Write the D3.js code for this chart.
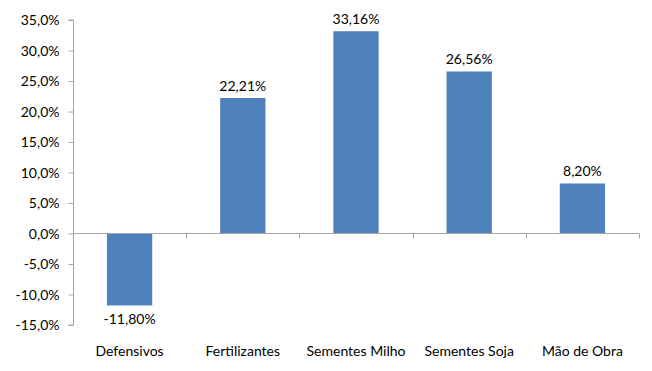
<!DOCTYPE html>
<html>
<head>
<meta charset="utf-8">
<script src="https://cdn.jsdelivr.net/npm/d3@7"></script>
<style>
  body { margin: 0; background: #fff; }
  text { font-family: Lato, "Open Sans", sans-serif; font-size: 14px; fill: #000; }
</style>
</head>
<body>
<svg id="chart" width="652" height="371"></svg>
<script>
// categories and values (percent)
const categories = ["Defensivos", "Fertilizantes", "Sementes Milho", "Sementes Soja", "Mão de Obra"];
const values = [-11.80, 22.21, 33.16, 26.56, 8.20];
const yTicks = [-15, -10, -5, 0, 5, 10, 15, 20, 25, 30, 35];

const svg = d3.select("#chart");
const margin = { top: 20, right: 13, bottom: 46, left: 73 };
const W = 652, H = 371;
const axisColor = "#A6A6A6";
const barColor = "#4F81BD";

const x = d3.scaleBand()
  .domain(categories)
  .range([margin.left, W - margin.right])
  .paddingInner(0.6)
  .paddingOuter(0.3);

const y = d3.scaleLinear()
  .domain([-15, 35])
  .range([H - margin.bottom, margin.top]);

const fmt = v => d3.format(".1f")(v).replace(".", ",").replace("−", "-") + "%";
const fmt2 = v => d3.format(".2f")(v).replace(".", ",").replace("−", "-") + "%";

// y axis
const yAxis = d3.axisLeft(y).tickValues(yTicks).tickSize(5).tickPadding(9).tickFormat(fmt);
const gy = svg.append("g").attr("transform", `translate(${margin.left + 0.5},0)`).call(yAxis);
gy.select(".domain").attr("stroke", axisColor).attr("d", `M-5,${y(35)}H0V${y(-15)}H-5`);
gy.selectAll(".tick line").attr("stroke", axisColor);
gy.selectAll(".tick text").attr("font-family", null).attr("font-size", null).attr("dy", "0.35em");

// bars
svg.append("g").selectAll("rect")
  .data(values)
  .join("rect")
  .attr("x", (d, i) => x(categories[i]))
  .attr("width", x.bandwidth())
  .attr("y", d => y(Math.max(0, d)))
  .attr("height", d => Math.abs(y(d) - y(0)))
  .attr("fill", barColor);

// zero line with category ticks
const zeroY = Math.round(y(0)) + 0.5;
const bounds = d3.range(categories.length + 1).map(i => margin.left + i * (W - margin.left - margin.right) / categories.length);
svg.append("line")
  .attr("x1", margin.left).attr("x2", W - margin.right)
  .attr("y1", zeroY).attr("y2", zeroY)
  .attr("stroke", axisColor);
svg.append("g").selectAll("line")
  .data(bounds.slice(1))
  .join("line")
  .attr("x1", d => Math.round(d) + 0.5).attr("x2", d => Math.round(d) + 0.5)
  .attr("y1", zeroY).attr("y2", zeroY + 5)
  .attr("stroke", axisColor);

// value labels
svg.append("g").selectAll("text")
  .data(values)
  .join("text")
  .attr("x", (d, i) => x(categories[i]) + x.bandwidth() / 2)
  .attr("y", d => d >= 0 ? y(d) - 7 : y(d) + 19)
  .attr("text-anchor", "middle")
  .text(fmt2);

// category labels
svg.append("g").selectAll("text")
  .data(categories)
  .join("text")
  .attr("x", d => x(d) + x.bandwidth() / 2)
  .attr("y", 356)
  .attr("text-anchor", "middle")
  .text(d => d);
</script>
</body>
</html>
